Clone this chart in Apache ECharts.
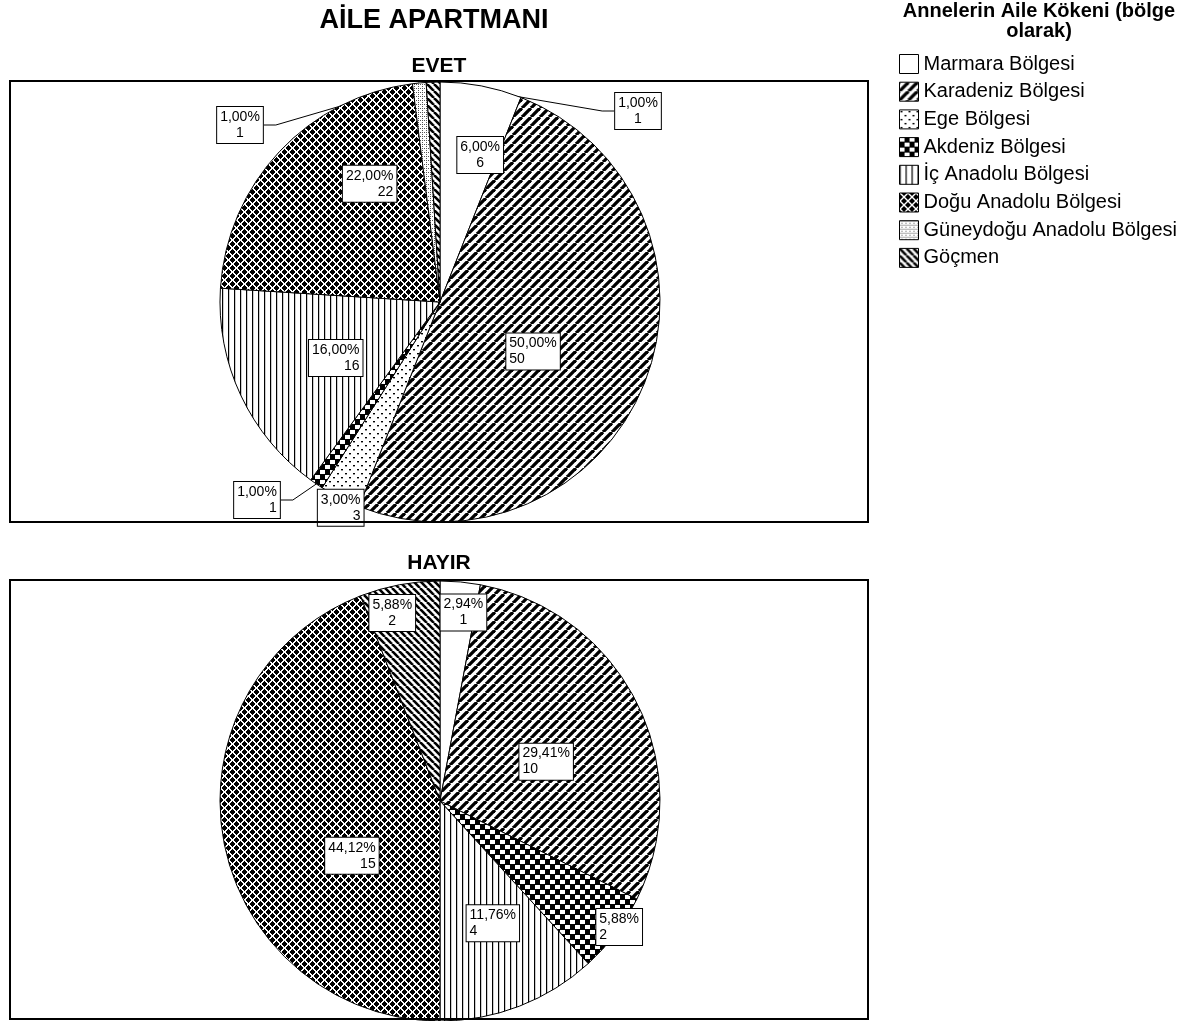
<!DOCTYPE html>
<html><head><meta charset="utf-8">
<script src="https://cdn.jsdelivr.net/npm/echarts@6/dist/echarts.min.js"></script>
<style>html,body{margin:0;padding:0;background:#fff}#c{width:1200px;height:1021px}</style>
</head><body><div id="c"></div>
<script>
// ---- data ----
const categories = ['Marmara Bölgesi','Karadeniz Bölgesi','Ege Bölgesi','Akdeniz Bölgesi','İç Anadolu Bölgesi','Doğu Anadolu Bölgesi','Güneydoğu Anadolu Bölgesi','Göçmen'];
const evetValues = [6, 50, 3, 1, 16, 22, 1, 1];
const hayirValues = [1, 10, 0, 2, 4, 15, 0, 2];
const chartTitle = 'AİLE APARTMANI';
const panelTitles = ['EVET', 'HAYIR'];
const legendTitle = 'Annelerin Aile Kökeni (bölge\nolarak)';

// ---- styles ----
const FONT = '"Liberation Sans", Arial, sans-serif';
const labelAligns = [
  ['center','left','right','right','right','right','center','center'],
  ['center','left','center','left','left','right','center','center']
];
const labelOffsets = [
  [[19,-36],[-12,8],[-48,105],null,[-2,8],[12,-41],null,null],
  [[13,-76],[5,11],null,[89,58],[12,17],[23,34],null,[-27,-77]]
];
const outsideIdx = [[3,6,7],[]];
const outsidePos = {'0-3':[257,500],'0-6':[240,125],'0-7':[638,111]};

function mk(w,h,draw,bg){
  const c=document.createElement('canvas');c.width=w;c.height=h;
  const g=c.getContext('2d');g.fillStyle=bg||'#fff';g.fillRect(0,0,w,h);draw(g,w,h);
  return {image:c,repeat:'repeat'};
}
const patterns = [
  '#ffffff',
  mk(9,9,(g,w,h)=>{g.strokeStyle='#000';g.lineWidth=3.3;for(let k=-1;k<=1;k++){g.beginPath();g.moveTo(k*w,h);g.lineTo(k*w+w,0);g.stroke();}}),
  mk(8,8,(g)=>{g.fillStyle='#000';g.fillRect(1,1,2,1.4);g.fillRect(5,5,2,1.4);}),
  mk(10,10,(g)=>{g.fillStyle='#fff';g.fillRect(0,0,5,4);g.fillRect(5,5,5,4);},'#000'),
  mk(6,6,(g)=>{g.fillStyle='#000';g.fillRect(0,0,1.2,6);}),
  mk(8,8,(g,w,h)=>{g.fillStyle='#fff';for(let i=0;i<w;i++){g.fillRect(i,i,1,1);g.fillRect((i+1)%w,i,1,1);g.fillRect(w-1-i,i,1,1);g.fillRect((w-i)%w,i,1,1);}},'#000'),
  mk(4,4,(g)=>{g.fillStyle='#555';g.fillRect(0,0,1,1);g.fillRect(2,2,1,1);g.fillRect(2,0,1,1);}),
  mk(7,7,(g,w,h)=>{g.strokeStyle='#000';g.lineWidth=2.6;for(let k=-1;k<=1;k++){g.beginPath();g.moveTo(k*w,0);g.lineTo(k*w+w,h);g.stroke();}})
];
const seriesValues = [evetValues, hayirValues];

function buildData(values, si){
  return values.map((v,i)=>{
    const item = {name: categories[i], value: v, itemStyle:{color: patterns[i]}};
    if (v === 0) { item.label = {show:false}; item.labelLine={show:false}; item.itemStyle.borderWidth = 0; return item; }
    if (outsideIdx[si].includes(i)) {
      item.label = {position:'outside'};
      item.labelLine = {show:true, length:8, length2:12, lineStyle:{color:'#000', width:1}};
    } else {
      item.label = {position:'inside', offset: labelOffsets[si][i] || [0,0]};
    }
    return item;
  });
}
const richBase = {fontSize:14, lineHeight:16, fontFamily:FONT, color:'#000'};
function labelFmt(p){
  const al = labelAligns[p.seriesIndex][p.dataIndex];
  const vals = seriesValues[p.seriesIndex];
  const sum = vals.reduce((a,b)=>a+b,0);
  const t = (p.value / sum * 100).toFixed(2).replace('.', ',') + '%';
  return '{'+al+'|'+t+'}\n{'+al+'|'+p.value+'}';
}
function makeSeries(values, si, cy){
  return {
    type:'pie', center:[440, cy], radius:220, startAngle:90, clockwise:true,
    avoidLabelOverlap:false, animation:false,
    emphasis:{disabled:true},
    itemStyle:{borderColor:'#000', borderWidth:1},
    label:{show:true, formatter:labelFmt, backgroundColor:'#fff', borderColor:'#000', borderWidth:1,
      padding:[2,3,2,3], fontSize:14, lineHeight:16, fontFamily:FONT, color:'#000',
      rich:{left:Object.assign({align:'left'},richBase), right:Object.assign({align:'right'},richBase), center:Object.assign({align:'center'},richBase)}},
    labelLine:{show:false, lineStyle:{color:'#000', width:1}},
    labelLayout:function(p){
      const k = p.seriesIndex+'-'+p.dataIndex;
      if (outsidePos[k]) return {x:outsidePos[k][0], y:outsidePos[k][1], align:'center', verticalAlign:'middle'};
      return {};
    },
    data: buildData(values, si)
  };
}

const chart = echarts.init(document.getElementById('c'), null, {renderer:'canvas'});
chart.setOption({
  backgroundColor:'#fff',
  animation:false,
  legend:{orient:'vertical', left:899, top:54, padding:0, itemWidth:19, itemHeight:19, itemGap:7.7,
    icon:'rect', selectedMode:false, data: categories,
    itemStyle:{borderColor:'#000', borderWidth:1},
    textStyle:{fontSize:20, fontFamily:FONT, color:'#000'}},
  graphic:[
    {type:'text', x:434, y:21, style:{text:chartTitle, fontSize:27, fontWeight:'bold', fontFamily:FONT, fill:'#000', align:'center', verticalAlign:'middle'}},
    {type:'text', x:439, y:66, style:{text:panelTitles[0], fontSize:21, fontWeight:'bold', fontFamily:FONT, fill:'#000', align:'center', verticalAlign:'middle'}},
    {type:'text', x:439, y:563, style:{text:panelTitles[1], fontSize:21, fontWeight:'bold', fontFamily:FONT, fill:'#000', align:'center', verticalAlign:'middle'}},
    {type:'text', x:1039, y:1, style:{text:legendTitle, fontSize:20, lineHeight:20, fontWeight:'bold', fontFamily:FONT, fill:'#000', align:'center', verticalAlign:'top'}},
    {type:'rect', z:100, shape:{x:10, y:81, width:858, height:441}, style:{fill:null, stroke:'#000', lineWidth:2}},
    {type:'rect', z:100, shape:{x:10, y:580, width:858, height:439}, style:{fill:null, stroke:'#000', lineWidth:2}}
  ],
  series:[ makeSeries(evetValues, 0, 302), makeSeries(hayirValues, 1, 801) ]
});
</script></body></html>
